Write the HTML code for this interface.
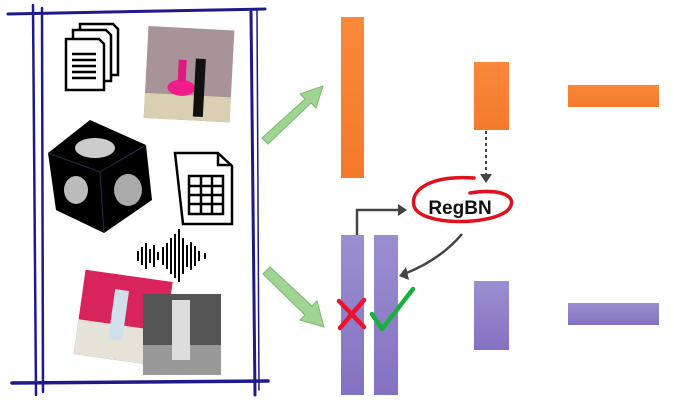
<!DOCTYPE html>
<html><head><meta charset="utf-8"><style>html,body{margin:0;padding:0;background:#fff}svg{display:block}</style></head><body>
<svg width="674" height="400" viewBox="0 0 674 400" xmlns="http://www.w3.org/2000/svg">
<defs>
<linearGradient id="og" x1="0" y1="0" x2="0" y2="1"><stop offset="0" stop-color="#f9883a"/><stop offset="1" stop-color="#f47a2a"/></linearGradient>
<linearGradient id="pg" x1="0" y1="0" x2="0" y2="1"><stop offset="0" stop-color="#9b8fd0"/><stop offset="1" stop-color="#8471c1"/></linearGradient>
</defs>
<g stroke="#1e1a8a" fill="none" stroke-linecap="round">
<path d="M8 14 L265 9" stroke-width="3"/>
<path d="M12 383 L268 381" stroke-width="3.5"/>
<path d="M33 5 L36 395" stroke-width="2.5"/>
<path d="M42 8 L43 392" stroke-width="2.5"/>
<path d="M251 12 L255 395" stroke-width="3"/>
<path d="M257 10 L259 390" stroke-width="1.5"/>
</g>
<g stroke="#000" stroke-width="2.5" fill="#fff">
<path d="M80 24 H113 L118 29 V75 H80 Z"/>
<path d="M73 30 H106 L111 35 V81 H73 Z"/>
<path d="M66 39 H99 L104 44 V90 H66 Z"/>
<path d="M72 54H96M72 60H96M72 66H96M72 72H96M72 78H96"/>
</g>
<g transform="rotate(3 185 75)">
<rect x="146" y="28" width="86" height="92" fill="#a89498"/>
<rect x="146" y="95" width="86" height="25" fill="#d8d0b0"/>
<ellipse cx="182" cy="88" rx="14" ry="8" fill="#ef1c8a"/>
<rect x="178" y="60" width="8" height="22" fill="#e0187f"/>
<rect x="195" y="58" width="10" height="58" fill="#111"/>
</g>
<polygon points="48,153 90,120 146,145 152,200 104,233 56,210" fill="#000"/>
<path d="M48 153 L100 172 L146 145 M100 172 L104 233" stroke="#1b3550" stroke-width="1" fill="none"/>
<ellipse cx="95" cy="148" rx="20" ry="10" fill="#ccc"/>
<ellipse cx="76" cy="190" rx="12" ry="14" fill="#bbb"/>
<ellipse cx="128" cy="190" rx="14" ry="16" fill="#aaa"/>
<g stroke="#000" stroke-width="2.5" fill="#fff">
<path d="M175 153 H218 L232 166 V224 H183 Z"/>
<path d="M218 153 V165 H232" fill="none"/>
<rect x="189" y="176" width="34" height="38" fill="none"/>
<path d="M189 186H223M189 195H223M189 204H223M201 176V214M212 176V214" fill="none"/>
</g>
<g stroke="#000" stroke-width="2">
<path d="M138 251v10M142 247v18M146 243v26M150 249v14M154 245v22M158 252v8M163 247v18M167 243v26M171 238v36M175 234v44M179 229v53M183 238v36M187 245v22M191 242v28M195 246v20M199 251v10M205 253v6"/>
</g>
<g transform="rotate(8 120 312)">
<rect x="80" y="275" width="88" height="85" fill="#d8245a"/>
<rect x="80" y="325" width="88" height="35" fill="#e5e2d8"/>
<rect x="112" y="290" width="14" height="50" fill="#cfe0ec"/>
</g>
<rect x="143" y="294" width="78" height="81" fill="#555"/>
<rect x="143" y="345" width="78" height="30" fill="#999"/>
<rect x="172" y="300" width="18" height="60" fill="#ddd"/>
<g fill="#9fd492" stroke="#7bb86e" stroke-width="1">
<path d="M262 138 L305 99 L300 94 L323 86 L316 108 L311 103 L268 144 Z"/>
<path d="M263 274 L270 267 L312 306 L317 301 L324 327 L300 320 L305 315 Z"/>
</g>
<rect x="341" y="17" width="23" height="161" fill="url(#og)"/>
<rect x="474" y="62" width="35" height="68" fill="url(#og)"/>
<rect x="568" y="85" width="91" height="22" fill="url(#og)"/>
<rect x="341" y="235" width="23" height="160" fill="url(#pg)"/>
<rect x="374" y="235" width="24" height="160" fill="url(#pg)"/>
<rect x="474" y="281" width="35" height="69" fill="url(#pg)"/>
<rect x="568" y="303" width="91" height="22" fill="url(#pg)"/>
<path d="M486 131 V176" stroke="#444" stroke-width="2" stroke-dasharray="3,3"/>
<path d="M480 174 L486 183 L492 174 Z" fill="#444"/>
<path d="M357 235 V210 H400" stroke="#444" stroke-width="2.5" fill="none"/>
<path d="M398 204 L407 210 L398 216 Z" fill="#444"/>
<path d="M462 234 Q440 260 404 274" stroke="#444" stroke-width="2.5" fill="none"/>
<path d="M406 267 L399 276 L409 280 Z" fill="#444"/>
<path d="M474 178 C430 175 410 190 414 206 C420 226 490 226 508 210 C520 196 500 188 470 193" stroke="#e0101c" stroke-width="3.5" fill="none" stroke-linecap="round"/>
<text x="460" y="214" font-family="Liberation Sans, sans-serif" font-weight="bold" font-size="19" text-anchor="middle" fill="#111">RegBN</text>
<path d="M339 301 L364 327 M364 300 L340 328" stroke="#f0102a" stroke-width="4.5" stroke-linecap="round"/>
<path d="M372 314 L382 329 L413 289" stroke="#19b040" stroke-width="4.5" fill="none" stroke-linecap="round" stroke-linejoin="round"/>
</svg>
</body></html>
